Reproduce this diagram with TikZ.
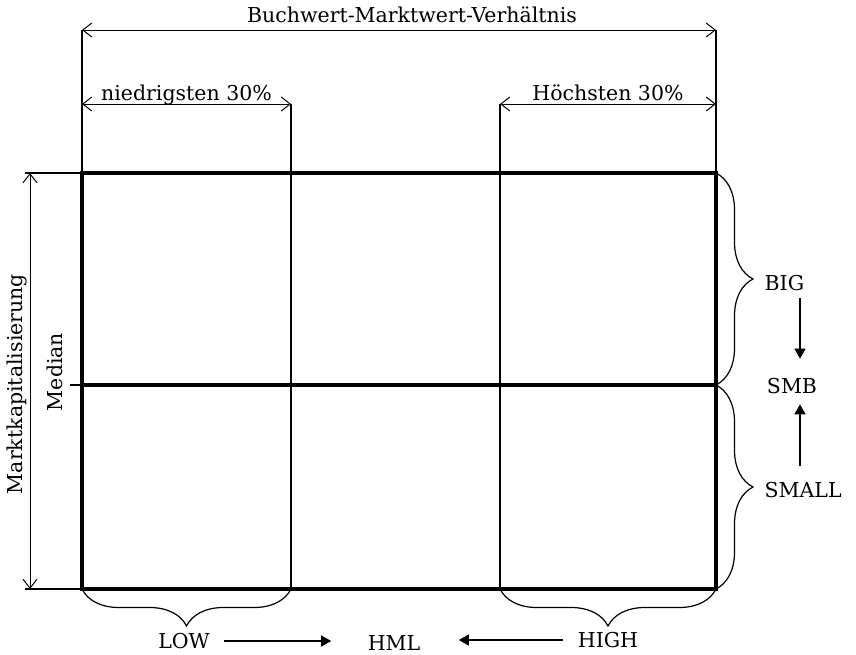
\documentclass[tikz,border=0pt]{standalone}
\usepackage{fontspec}
\setmainfont{DejaVu Serif}
\usetikzlibrary{arrows.meta, decorations.pathreplacing, positioning}

\begin{document}
\begin{tikzpicture}[x=1pt, y=-1pt, line width=1.2pt]
	\tikzset{
	    cell/.style= {line width=3.6pt},
	    dimline/.style= {{Straight Barb[length=9pt, width=14pt]}-{Straight Barb[length=9pt, width=14pt]}, line width=1pt},
	    bracket/.style= {decorate, decoration={brace, amplitude=37pt}, line width=1.2pt},
	    txt/.style= {font=\fontsize{20.5}{24}\selectfont, inner sep=2pt},
	    dimtxt/.style= {txt, anchor=base, yshift=4pt},
	    pull/.style= {-{Triangle[length=10pt, width=11pt]}, line width=1.4pt},
	}
	\useasboundingbox (0,0) rectangle (856,654);

	% grid
	\coordinate (nw) at (82,173);
	\coordinate (ne) at (716,173);
	\coordinate (sw) at (82,589);
	\coordinate (se) at (716,589);
	\coordinate (mw) at (82,385);
	\coordinate (me) at (716,385);
	\coordinate (mtick) at (70,385);
	\coordinate (c1n) at (291,104);
	\coordinate (c1s) at (291,589);
	\coordinate (c2n) at (500,104);
	\coordinate (c2s) at (500,589);

	% dimension ends
	\coordinate (bt1) at (82,30);
	\coordinate (bt2) at (716,30);
	\coordinate (lo1) at (82,104);
	\coordinate (hi2) at (716,104);
	\coordinate (ml1) at (30,173);
	\coordinate (ml2) at (30,589);
	\coordinate (xa) at (25,173);
	\coordinate (xb) at (25,589);

	\draw (bt1) -- (nw);
	\draw (bt2) -- (ne);
	\draw (c1n) -- (c1s);
	\draw (c2n) -- (c2s);
	\draw (xa) -- (nw);
	\draw (xb) -- (sw);
	\draw (mtick) -- (mw);
	\draw[cell] (nw) rectangle (se);
	\draw[cell] (mw) -- (me);

	\draw[dimline] (bt1) -- node[dimtxt, yshift=4pt, xshift=13pt] {Buchwert-Marktwert-Verhältnis} (bt2);
	\draw[dimline] (lo1) -- node[dimtxt] {niedrigsten 30\%} (c1n);
	\draw[dimline] (c2n) -- node[dimtxt] {Höchsten 30\%} (hi2);
	\draw[dimline] (ml1) -- (ml2);

	\node[txt, rotate=90] (cap) at (17,384) {Marktkapitalisierung};
	\node[txt, rotate=90] (median) at (55,372) {Median};

	% braces
	\draw[bracket] (ne) -- (me);
	\draw[bracket] (me) -- (se);
	\draw[bracket] (c1s) -- (sw);
	\draw[bracket] (se) -- (c2s);

	\node[txt, anchor=west] (big) at (762,283) {BIG};
	\node[txt] (smb) at (792,386) {SMB};
	\node[txt, anchor=west] (small) at (762,490) {SMALL};
	\node[txt] (low) at (184,641) {LOW};
	\node[txt] (hml) at (394,643) {HML};
	\node[txt] (high) at (608,640) {HIGH};

	\draw[pull, shorten <=5pt, shorten >=17pt] ([xshift=8pt]smb.north |- big.south) -- ([xshift=8pt]smb.north);
	\draw[pull, shorten <=14pt, shorten >=8pt] ([xshift=8pt]smb.south |- small.north) -- ([xshift=8pt]smb.south);
	\draw[pull, shorten <=12pt, shorten >=34pt] (low.east) -- (low.east -| hml.west);
	\draw[pull, shorten <=12pt, shorten >=36pt] (high.west) -- (high.west -| hml.east);
\end{tikzpicture}
\end{document}
